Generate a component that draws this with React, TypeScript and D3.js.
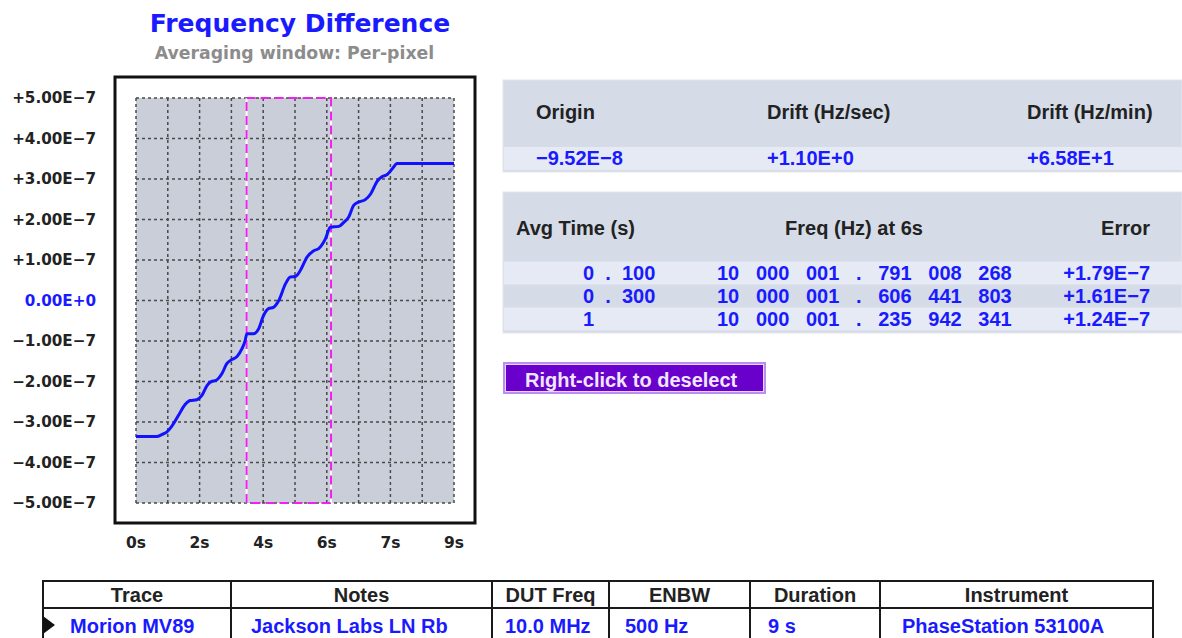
import { useEffect, useRef } from 'react'
import * as d3 from 'd3'

// y axis in units of 1E-7
const yTicks = [5, 4, 3, 2, 1, 0, -1, -2, -3, -4, -5]
const yTickLabels = [
  '+5.00E−7', '+4.00E−7', '+3.00E−7', '+2.00E−7', '+1.00E−7', '0.00E+0',
  '−1.00E−7', '−2.00E−7', '−3.00E−7', '−4.00E−7', '−5.00E−7',
]
const xGrid = [0, 0.9, 1.8, 2.7, 3.6, 4.5, 5.4, 6.3, 7.2, 8.1, 9]
const xTickValues = [0, 1.8, 3.6, 5.4, 7.2, 9]
const xTickLabels = ['0s', '2s', '4s', '6s', '7s', '9s']

// trace: time (s) and frequency difference (x1E-7)
const traceTime = [
  0, 0.59, 0.73, 0.87, 1.01, 1.2, 1.39, 1.53, 1.72, 1.86, 2.01, 2.1, 2.29, 2.43, 2.57, 2.71,
  2.86, 3.0, 3.09, 3.14, 3.33, 3.47, 3.61, 3.75, 3.89, 4.04, 4.23, 4.37, 4.51, 4.65, 4.84,
  5.03, 5.17, 5.36, 5.5, 5.74, 5.88, 6.02, 6.16, 6.3, 6.49, 6.64, 6.83, 6.97, 7.11, 7.25,
  7.39, 9.0,
]
const traceValue = [
  -3.36, -3.36, -3.31, -3.25, -3.11, -2.84, -2.57, -2.47, -2.45, -2.35, -2.1, -2.02, -1.96,
  -1.81, -1.56, -1.46, -1.38, -1.19, -0.99, -0.82, -0.82, -0.7, -0.37, -0.2, -0.17, 0.0,
  0.41, 0.58, 0.59, 0.74, 1.07, 1.23, 1.28, 1.52, 1.81, 1.83, 1.93, 2.06, 2.35, 2.43, 2.49,
  2.63, 2.95, 3.06, 3.11, 3.25, 3.38, 3.38,
]
const selection = [3.13, 5.52]

const driftHeaders = ['Origin', 'Drift (Hz/sec)', 'Drift (Hz/min)']
const driftValues = ['−9.52E−8', '+1.10E+0', '+6.58E+1']

const avgHeaders = ['Avg Time (s)', 'Freq (Hz) at 6s', 'Error']
const avgTimes = ['0  .  100', '0  .  300', '1']
const avgFreqs = [
  '10   000   001   .   791   008   268',
  '10   000   001   .   606   441   803',
  '10   000   001   .   235   942   341',
]
const avgErrors = ['+1.79E−7', '+1.61E−7', '+1.24E−7']

const traceHeaders = ['Trace', 'Notes', 'DUT Freq', 'ENBW', 'Duration', 'Instrument']
const traceRow = ['Morion MV89', 'Jackson Labs LN Rb', '10.0 MHz', '500 Hz', '9 s', 'PhaseStation 53100A']

const axisFont = "'DejaVu Sans', Verdana, sans-serif"
const panelFont = "'Liberation Sans', Arial, sans-serif"
const blue = '#1a1aff'

export default function App() {
  const svgRef = useRef<SVGSVGElement>(null)

  useEffect(() => {
    const svg = d3.select(svgRef.current)
    svg.selectAll('*').remove()

    // Titles
    svg.append('text')
      .attr('x', 300).attr('y', 32)
      .attr('text-anchor', 'middle')
      .style('font-family', axisFont).style('font-weight', 'bold').style('font-size', '25px')
      .style('fill', blue)
      .text('Frequency Difference')
    svg.append('text')
      .attr('x', 294.5).attr('y', 58.5)
      .attr('text-anchor', 'middle')
      .style('font-family', axisFont).style('font-weight', 'bold').style('font-size', '17.3px')
      .style('fill', '#8c8c8c')
      .text('Averaging window: Per-pixel')

    // Frame
    svg.append('rect')
      .attr('x', 115).attr('y', 77).attr('width', 360).attr('height', 446)
      .style('fill', '#fff').style('stroke', '#111').style('stroke-width', 3)

    const x = d3.scaleLinear().domain([0, 9]).range([136, 454])
    const y = d3.scaleLinear().domain([-5, 5]).range([503, 98])

    const g = svg.append('g')
    g.append('rect')
      .attr('x', x(0)).attr('y', y(5))
      .attr('width', x(9) - x(0)).attr('height', y(-5) - y(5))
      .style('fill', '#c9ced9')

    // Gridlines
    g.selectAll('line.vg').data(xGrid).enter().append('line')
      .attr('class', 'vg')
      .attr('x1', d => x(d)).attr('x2', d => x(d))
      .attr('y1', y(5)).attr('y2', y(-5))
      .style('stroke', '#4a4a4a').style('stroke-width', 1.5).style('stroke-dasharray', '3,3')
    g.selectAll('line.hg').data(yTicks).enter().append('line')
      .attr('class', 'hg')
      .attr('x1', x(0)).attr('x2', x(9))
      .attr('y1', d => y(d)).attr('y2', d => y(d))
      .style('stroke', '#4a4a4a').style('stroke-width', 1.5).style('stroke-dasharray', '3,3')

    // Selection window
    selection.forEach(s => {
      g.append('line')
        .attr('x1', x(s)).attr('x2', x(s)).attr('y1', y(5)).attr('y2', y(-5))
        .style('stroke', '#fff').style('stroke-width', 2)
    })
    g.append('rect')
      .attr('x', x(selection[0])).attr('y', y(5))
      .attr('width', x(selection[1]) - x(selection[0])).attr('height', y(-5) - y(5))
      .style('fill', 'none').style('stroke', '#ee22ee').style('stroke-width', 2)
      .style('stroke-dasharray', '9,5')

    // Trace
    const pts = traceTime.map((t, i) => [t, traceValue[i]] as [number, number])
    const line = d3.line<[number, number]>()
      .x(d => x(d[0]))
      .y(d => y(d[1]))
      .curve(d3.curveMonotoneX)
    g.append('path')
      .datum(pts)
      .attr('d', line)
      .style('fill', 'none').style('stroke', '#1212ff').style('stroke-width', 3)
      .style('stroke-linejoin', 'round')

    // Y axis labels
    g.selectAll('text.yl').data(yTicks).enter().append('text')
      .attr('class', 'yl')
      .attr('x', 96).attr('y', d => y(d))
      .attr('dy', '0.36em')
      .attr('text-anchor', 'end')
      .style('font-family', axisFont).style('font-weight', 'bold').style('font-size', '15.2px')
      .style('fill', d => (d === 0 ? blue : '#222'))
      .text((_, i) => yTickLabels[i])

    // X axis labels
    g.selectAll('text.xl').data(xTickValues).enter().append('text')
      .attr('class', 'xl')
      .attr('x', d => x(d)).attr('y', 548)
      .attr('text-anchor', 'middle')
      .style('font-family', axisFont).style('font-weight', 'bold').style('font-size', '15.5px')
      .style('fill', '#222')
      .text((_, i) => xTickLabels[i])

    const panelText = (sel: d3.Selection<any, any, any, any>) =>
      sel.style('font-family', panelFont).style('font-weight', 'bold').style('font-size', '20px')
        .style('white-space', 'pre')

    // Drift table
    svg.append('rect')
      .attr('x', 503).attr('y', 80).attr('width', 679).attr('height', 92)
      .style('fill', '#d5dbe7').style('stroke', '#e4e6ea')
    svg.append('rect')
      .attr('x', 504).attr('y', 147).attr('width', 678).attr('height', 23)
      .style('fill', '#e5eaf5')
    const driftX = [536, 767, 1027]
    driftHeaders.forEach((h, i) => {
      panelText(svg.append('text').attr('x', driftX[i]).attr('y', 112).attr('dy', '0.35em'))
        .style('fill', '#222').text(h)
      panelText(svg.append('text').attr('x', driftX[i]).attr('y', 158).attr('dy', '0.35em'))
        .style('fill', blue).text(driftValues[i])
    })

    // Averaging table
    svg.append('rect')
      .attr('x', 503).attr('y', 192).attr('width', 679).attr('height', 141)
      .style('fill', '#d5dbe7').style('stroke', '#e4e6ea')
    const rowY = [273, 296, 319]
    rowY.forEach((ry, i) => {
      if (i % 2 === 0) {
        svg.append('rect')
          .attr('x', 504).attr('y', ry - 11.5).attr('width', 678).attr('height', 23)
          .style('fill', '#e5eaf5')
      }
    })
    panelText(svg.append('text').attr('x', 516).attr('y', 228).attr('dy', '0.35em'))
      .style('fill', '#222').text(avgHeaders[0])
    panelText(svg.append('text').attr('x', 854).attr('y', 228).attr('dy', '0.35em').attr('text-anchor', 'middle'))
      .style('fill', '#222').text(avgHeaders[1])
    panelText(svg.append('text').attr('x', 1150).attr('y', 228).attr('dy', '0.35em').attr('text-anchor', 'end'))
      .style('fill', '#222').text(avgHeaders[2])
    rowY.forEach((ry, i) => {
      panelText(svg.append('text').attr('x', 583).attr('y', ry).attr('dy', '0.35em'))
        .style('fill', blue).text(avgTimes[i])
      panelText(svg.append('text').attr('x', 717).attr('y', ry).attr('dy', '0.35em'))
        .style('fill', blue).text(avgFreqs[i])
      panelText(svg.append('text').attr('x', 1150).attr('y', ry).attr('dy', '0.35em').attr('text-anchor', 'end'))
        .style('fill', blue).text(avgErrors[i])
    })

    // Button
    svg.append('rect')
      .attr('x', 503).attr('y', 362).attr('width', 263).attr('height', 32)
      .style('fill', '#b990ee')
    svg.append('rect')
      .attr('x', 505.5).attr('y', 364.5).attr('width', 258).attr('height', 27)
      .style('fill', '#6a00cc').style('stroke', '#e4d4ff').style('stroke-width', 1)
    panelText(svg.append('text').attr('x', 525).attr('y', 386.5))
      .style('fill', '#efe6ff').text('Right-click to deselect')

    // Trace table
    const cols = [43, 231, 492, 609, 750, 880, 1153]
    const dataX = [70, 251, 505, 625, 768, 902]
    svg.append('rect')
      .attr('x', 43).attr('y', 581).attr('width', 1110).attr('height', 70)
      .style('fill', '#fff').style('stroke', '#1a1a1a').style('stroke-width', 2)
    svg.append('line')
      .attr('x1', 43).attr('x2', 1153).attr('y1', 608).attr('y2', 608)
      .style('stroke', '#1a1a1a').style('stroke-width', 2)
    cols.slice(1, -1).forEach(c => {
      svg.append('line')
        .attr('x1', c).attr('x2', c).attr('y1', 581).attr('y2', 640)
        .style('stroke', '#1a1a1a').style('stroke-width', 2)
    })
    traceHeaders.forEach((h, i) => {
      panelText(svg.append('text')
        .attr('x', (cols[i] + cols[i + 1]) / 2).attr('y', 595).attr('dy', '0.35em')
        .attr('text-anchor', 'middle'))
        .style('fill', '#222').text(h)
      panelText(svg.append('text').attr('x', dataX[i]).attr('y', 626).attr('dy', '0.35em'))
        .style('fill', blue).text(traceRow[i])
    })
    svg.append('path')
      .attr('d', 'M43,616L55,625L43,634Z')
      .style('fill', '#111')
  }, [])

  return (
    <svg
      ref={svgRef}
      width={1182}
      height={638}
      style={{ position: 'absolute', left: 0, top: 0, background: '#fff' }}
    />
  )
}
